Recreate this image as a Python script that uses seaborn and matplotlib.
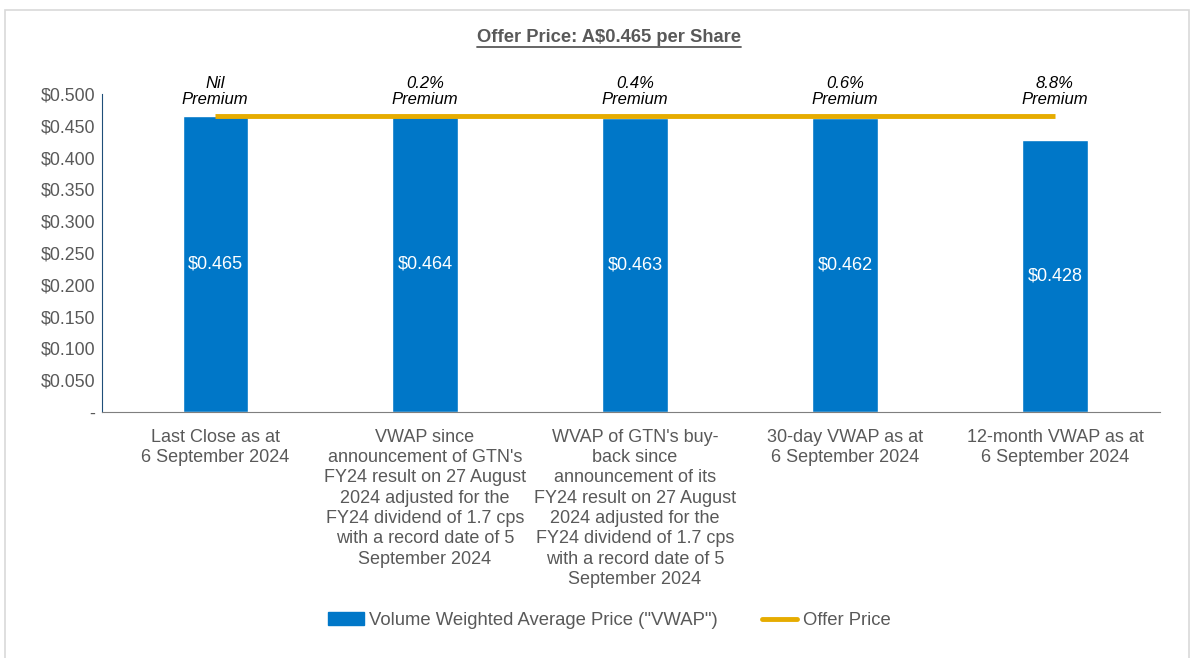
import pandas as pd
import seaborn as sns
import matplotlib.pyplot as plt
from matplotlib.patches import Rectangle, Patch
from matplotlib.lines import Line2D

# Data
categories = [
    "Last Close as at\n6 September 2024",
    "VWAP since\nannouncement of GTN's\nFY24 result on 27 August\n2024 adjusted for the\nFY24 dividend of 1.7 cps\nwith a record date of 5\nSeptember 2024",
    "WVAP of GTN's buy-\nback since\nannouncement of its\nFY24 result on 27 August\n2024 adjusted for the\nFY24 dividend of 1.7 cps\nwith a record date of 5\nSeptember 2024",
    "30-day VWAP as at\n6 September 2024",
    "12-month VWAP as at\n6 September 2024",
]
vwap = [0.465, 0.464, 0.463, 0.462, 0.428]
premium_labels = ["Nil\nPremium", "0.2%\nPremium", "0.4%\nPremium", "0.6%\nPremium", "8.8%\nPremium"]
offer_price = 0.465

df = pd.DataFrame({"Category": categories, "VWAP": vwap})

sns.set_style("white")
plt.rcParams['font.family'] = ['Liberation Sans', 'DejaVu Sans']

grey = "#595959"
blue = "#0077C8"
gold = "#E6AC00"

fig = plt.figure(figsize=(11.94, 6.58), dpi=100)
ax = fig.add_axes([0.0855, 0.374, 0.886, 0.483])

sns.barplot(data=df, x="Category", y="VWAP", color=blue, width=0.31,
            saturation=1, ax=ax)

# Offer price line
ax.plot(range(len(categories)), [offer_price] * len(categories),
        color=gold, lw=3.5, solid_capstyle="butt", zorder=3)

ax.set_ylim(0, 0.5)
ax.set_xlim(-0.538, 4.5)
yt = [i * 0.05 for i in range(11)]
ax.set_yticks(yt)
ax.set_yticklabels(["-"] + [f"${v:.3f}" for v in yt[1:]], fontsize=12.8, color=grey)
ax.set_xticks(range(len(categories)))
ax.set_xticklabels(categories, fontsize=13, color=grey, linespacing=1.26)
ax.set_xlabel("")
ax.set_ylabel("")
ax.tick_params(axis="y", length=4, width=1, color="#1F4E79", direction="out", pad=1)
ax.tick_params(axis="x", length=0, pad=12)

for s in ["top", "right"]:
    ax.spines[s].set_visible(False)
ax.spines["left"].set_color("#1F4E79")
ax.spines["bottom"].set_color("#7F7F7F")

# Value labels inside bars
for container in ax.containers:
    ax.bar_label(container, labels=[f"${v:.3f}" for v in vwap], label_type="center",
                 color="white", fontsize=13)

# Premium labels around the top of the axes
for i, lab in enumerate(premium_labels):
    ax.annotate(lab, xy=(i, 1.0), xycoords=("data", "axes fraction"),
                xytext=(0, -9), textcoords="offset points", ha="center", va="bottom",
                fontsize=12, style="italic", color="black", linespacing=1.05,
                annotation_clip=False)

fig.text(0.51, 0.943, "Offer Price: A$0.465 per Share", ha="center", va="center",
         fontsize=13.2, fontweight="bold", color=grey)
fig.add_artist(Line2D([0.3995, 0.6205], [0.929, 0.929], transform=fig.transFigure,
                      color=grey, lw=1.3))

handles = [Patch(facecolor=blue, edgecolor=blue),
           Line2D([0], [0], color=gold, lw=3.5)]
fig.legend(handles, ['Volume Weighted Average Price ("VWAP")', "Offer Price"],
           loc="center", bbox_to_anchor=(0.5105, 0.057), ncol=2, frameon=False,
           fontsize=13.3, labelcolor=grey, handlelength=1.9, columnspacing=2.4,
           handletextpad=0.3)

# light frame around the chart area
fig.add_artist(Rectangle((0.004, -0.01), 0.992, 0.995, transform=fig.transFigure,
                         fill=False, edgecolor="#D9D9D9", lw=1.2))

fig.savefig("out.png", dpi=100)
